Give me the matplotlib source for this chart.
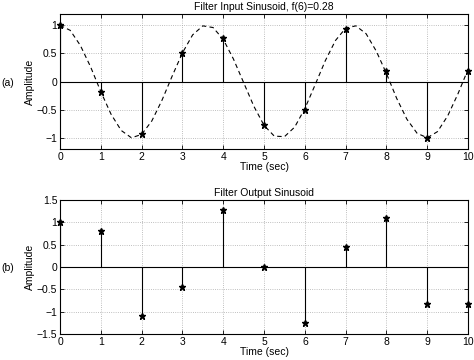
import numpy as np
import matplotlib
matplotlib.use("Agg")
import matplotlib.pyplot as plt

plt.rcParams['font.family'] = ['Liberation Sans', 'DejaVu Sans']
plt.rcParams['font.size'] = 7.5

# sample times and stem values
n = [0, 1, 2, 3, 4, 5, 6, 7, 8, 9, 10]
x_in = [1.0, -0.18, -0.94, 0.5, 0.77, -0.77, -0.5, 0.94, 0.18, -1.0, 0.18]
y_out = [1.0, 0.82, -1.10, -0.44, 1.27, 0.0, -1.25, 0.44, 1.11, -0.82, -0.82]

# dashed continuous input curve, read every 0.25 s
t_curve = [i * 0.25 for i in range(41)]
x_curve = [1.00, 0.91, 0.64, 0.26, -0.18, -0.58, -0.87, -1.00, -0.94, -0.70,
           -0.33, 0.10, 0.51, 0.83, 0.99, 0.96, 0.75, 0.40, -0.02, -0.44,
           -0.78, -0.97, -0.98, -0.81, -0.48, -0.06, 0.37, 0.73, 0.95, 0.99,
           0.85, 0.54, 0.14, -0.30, -0.67, -0.92, -1.00, -0.89, -0.61, -0.22,
           0.22]

fig = plt.figure(figsize=(4.74, 3.6), dpi=100)
ax1 = fig.add_axes([0.1266, 0.586, 0.861, 0.375])
ax2 = fig.add_axes([0.1266, 0.072, 0.861, 0.372])


def stem_axes(ax, vals):
    ax.axhline(0, color='black', lw=0.8, zorder=2)
    ax.vlines(n, 0, vals, color='black', lw=0.8, zorder=2)
    ax.plot(n, vals, ls='none', marker='*', ms=4.5, color='black',
            mec='black', zorder=3, clip_on=False)
    ax.set_xlim(0, 10)
    ax.set_xticks(range(11))
    ax.grid(True, ls=':', color='#aaaaaa', lw=0.6)
    ax.tick_params(direction='in', top=True, right=True, length=3, width=0.6,
                   pad=2)
    for s in ax.spines.values():
        s.set_linewidth(0.8)
    ax.set_xlabel('Time (sec)', labelpad=0)
    ax.set_ylabel('Amplitude', labelpad=1)


ax1.plot(t_curve, x_curve, ls='--', color='black', lw=0.8, dashes=(4, 3),
         zorder=2)
stem_axes(ax1, x_in)
ax1.set_ylim(-1.2, 1.2)
ax1.set_yticks([-1, -0.5, 0, 0.5, 1])
ax1.set_yticklabels(['\u22121', '\u22120.5', '0', '0.5', '1'])
ax1.set_title('Filter Input Sinusoid, f(6)=0.28', pad=3, fontsize=7.5)

stem_axes(ax2, y_out)
ax2.set_ylim(-1.5, 1.5)
ax2.set_yticks([-1.5, -1, -0.5, 0, 0.5, 1, 1.5])
ax2.set_yticklabels(['\u22121.5', '\u22121', '\u22120.5', '0', '0.5', '1', '1.5'])
ax2.set_title('Filter Output Sinusoid', pad=3, fontsize=7.5)

fig.text(0.002, 0.77, '(a)', fontsize=7.5, va='center')
fig.text(0.002, 0.255, '(b)', fontsize=7.5, va='center')

fig.savefig('out.png', dpi=100)
